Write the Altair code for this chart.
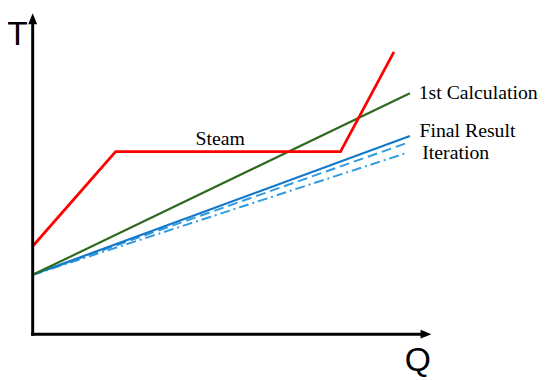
import altair as alt
import pandas as pd

# Series (Q, T) in arbitrary units: Q 0-100, T 0-100
q_steam = [0, 20.8, 77.2, 90.6]
t_steam = [27.4, 56.9, 56.9, 88.0]
q_first = [0, 94.6]
t_first = [18.5, 75.1]
q_final = [0, 94.6]
t_final = [18.5, 61.8]
q_iter1 = [0, 94.1]
t_iter1 = [18.5, 59.7]
q_iter2 = [0, 93.3]
t_iter2 = [18.5, 56.3]

label_text = ["Steam", "1st Calculation", "Final Result", "Iteration"]
label_q = [47.0, 96.8, 97.0, 97.7]
label_t = [60.9, 75.1, 63.4, 56.6]

xs = alt.Scale(domain=[0, 100], nice=False, zero=False)
ys = alt.Scale(domain=[0, 100], nice=False, zero=False)
X = alt.X("Q:Q", scale=xs, axis=None)
Y = alt.Y("T:Q", scale=ys, axis=None)

def line(qs, ts, color, width, dash=None):
    df = pd.DataFrame({"Q": qs, "T": ts, "order": list(range(len(qs)))})
    kw = dict(color=color, strokeWidth=width, clip=False)
    if dash:
        kw["strokeDash"] = dash
    return alt.Chart(df).mark_line(**kw).encode(x=X, y=Y, order="order:O")

layers = [
    line(q_iter2, t_iter2, "#2E9BE0", 2, [10, 4, 2, 4]),
    line(q_iter1, t_iter1, "#2E9BE0", 2, [10, 5]),
    line(q_final, t_final, "#1479C9", 2.2),
    line(q_first, t_first, "#2D6A1F", 2.2),
    line(q_steam, t_steam, "#FF0000", 2.8),
]

# axes as arrows
axis_df = pd.DataFrame({"Q": [0, 0], "T": [0, 0], "Q2": [0, 98], "T2": [98, 0]})
axes = alt.Chart(axis_df).mark_rule(color="black", strokeWidth=3, strokeCap="square", clip=False).encode(
    x=X, y=Y, x2="Q2:Q", y2="T2:Q")
up_df = pd.DataFrame({"Q": [0], "T": [100]})
up = alt.Chart(up_df).mark_point(shape="M0,0L-0.9,2.2L0.9,2.2Z", size=100, filled=True, color="black",
                                 opacity=1, clip=False).encode(x=X, y=Y)
right_df = pd.DataFrame({"Q": [100], "T": [0]})
right = alt.Chart(right_df).mark_point(shape="M0,0L-2.2,-0.9L-2.2,0.9Z", size=100, filled=True, color="black",
                                       opacity=1, clip=False).encode(x=X, y=Y)

axlab_df = pd.DataFrame({"Q": [-3.8, 96.6], "T": [93.1, -8.3], "txt": ["T", "Q"]})
axlab = alt.Chart(axlab_df).mark_text(font="Liberation Sans", fontSize=34, align="center", baseline="middle",
                                      color="black", clip=False).encode(x=X, y=Y, text="txt:N")

lab_df = pd.DataFrame({"Q": label_q, "T": label_t, "txt": label_text})
labs_center = alt.Chart(lab_df.iloc[:1]).mark_text(font="Liberation Serif", fontSize=20, align="center",
                                                   baseline="middle", color="black", clip=False).encode(
    x=X, y=Y, text="txt:N")
labs_left = alt.Chart(lab_df.iloc[1:]).mark_text(font="Liberation Serif", fontSize=20, align="left",
                                                 baseline="middle", color="black", clip=False).encode(
    x=X, y=Y, text="txt:N")

chart = alt.layer(*layers, axes, up, right, axlab, labs_center, labs_left).properties(
    width=404, height=325,
    autosize=alt.AutoSizeParams(type="none"),
    padding={"left": 25, "top": 3, "right": 112, "bottom": 43},
).configure(background="white", view=alt.ViewConfig(stroke=None, strokeWidth=0))

chart.save("out.html", embed_options={"renderer": "svg", "actions": False})
